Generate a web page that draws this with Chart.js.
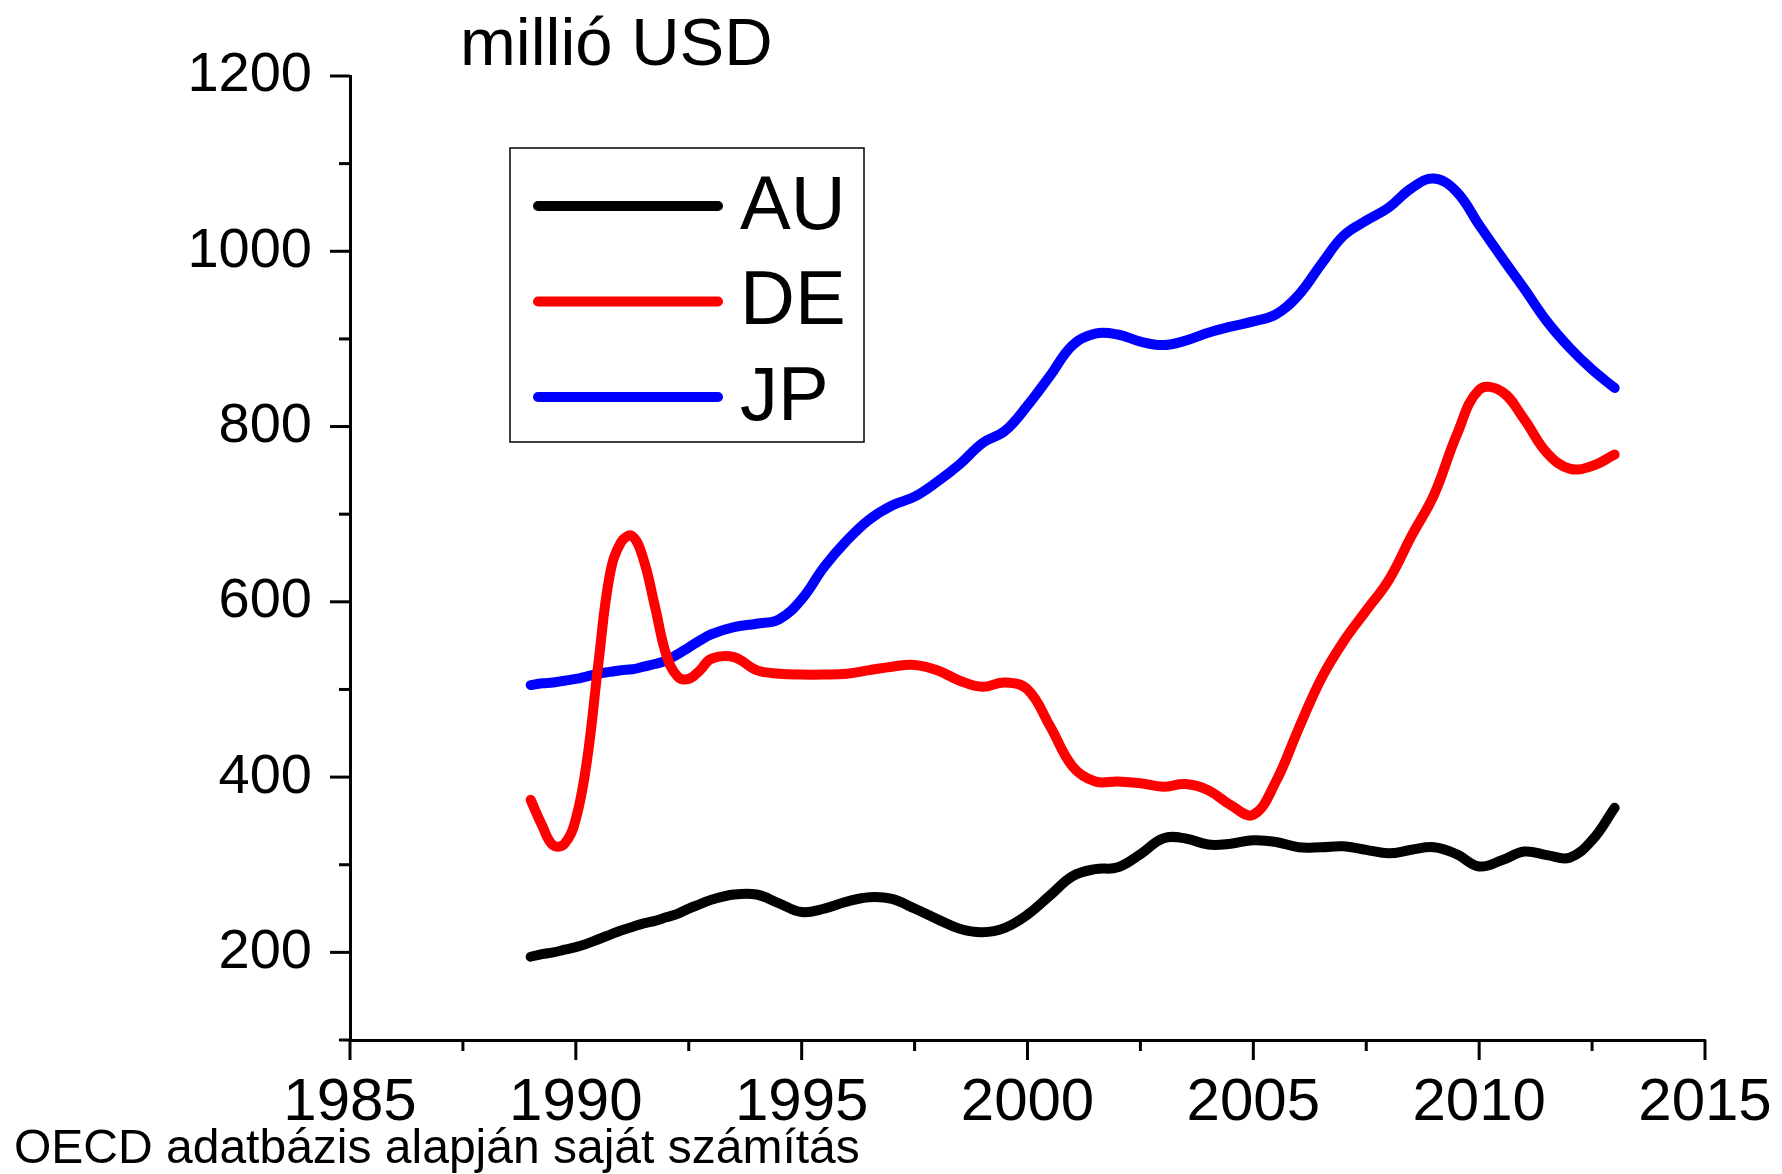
<!DOCTYPE html>
<html>
<head>
<meta charset="utf-8">
<script src="https://cdn.jsdelivr.net/npm/chart.js@4/dist/chart.umd.min.js"></script>
<style>
  html, body { margin: 0; padding: 0; background: #fff; }
  canvas { display: block; }
</style>
</head>
<body>
<canvas id="chart" width="1782" height="1174"></canvas>
<script>
// years (quarter-years where DE spikes, then half-years)
const years = [
  1989, 1989.25, 1989.5, 1989.75, 1990, 1990.25, 1990.5, 1990.75,
  1991, 1991.25, 1991.5, 1991.75, 1992, 1992.25, 1992.5, 1992.75,
  1993, 1993.5, 1994, 1994.5, 1995, 1995.5, 1996, 1996.5, 1997, 1997.5,
  1998, 1998.5, 1999, 1999.5, 2000, 2000.5, 2001, 2001.5, 2002, 2002.5,
  2003, 2003.5, 2004, 2004.5, 2005, 2005.5, 2006, 2006.5, 2007, 2007.5,
  2008, 2008.5, 2009, 2009.5, 2010, 2010.5, 2011, 2011.5, 2012, 2012.5, 2013
];

const auValues = [
  195, 198, 200, 203, 206, 210, 215, 220,
  225, 229, 233, 236, 240, 244, 250, 255,
  260, 266, 266, 256, 246, 250, 258, 263, 261, 250,
  238, 227, 223, 228, 243, 265, 287, 295, 297, 312,
  330, 330, 323, 324, 328, 326, 320, 320, 321, 317,
  313, 317, 320, 312, 298, 305, 315, 311, 308, 328, 365
];

const deValues = [
  374, 345, 322, 324, 352, 420, 530, 630,
  668, 675, 648, 595, 540, 515, 512, 522,
  535, 537, 522, 518, 517, 517, 518, 522, 526, 528,
  522, 510, 503, 508, 500, 458, 412, 395, 395, 393,
  389, 392, 385, 368, 357, 395, 455, 512, 555, 590,
  625, 675, 722, 790, 842, 840, 808, 770, 752, 755, 768
];

const jpValues = [
  505, 507, 508, 510, 512, 515, 518, 520,
  522, 523, 526, 529, 533, 540, 548, 556,
  563, 571, 575, 580, 603, 640, 670, 694, 710, 720,
  737, 757, 781, 795, 824, 858, 893, 906, 905, 897,
  893, 898, 907, 914, 920, 928, 950, 985, 1018, 1035,
  1050, 1072, 1083, 1068, 1030, 993, 957, 920, 890, 865, 844
];

const seriesNames = ["AU", "DE", "JP"];
const seriesColors = ["#000000", "#ff0000", "#0000ff"];

const yTickMajor = 200;
const xTickMajor = 5;

const FONT = "'Liberation Sans', Arial, Helvetica, sans-serif";

const toPoints = (vals) => years.map((x, i) => ({ x: x, y: vals[i] }));

// outward major/minor tick marks, legend box, title and source note
const decorations = {
  id: "decorations",
  afterDraw(chart) {
    const ctx = chart.ctx;
    const xs = chart.scales.x;
    const ys = chart.scales.y;
    const area = chart.chartArea;

    ctx.save();
    ctx.strokeStyle = "#000";
    ctx.lineWidth = 3;
    ctx.lineCap = "butt";

    ys.ticks.forEach((t) => {
      const py = ys.getPixelForValue(t.value);
      const len = t.value % yTickMajor === 0 ? 20 : 11;
      ctx.beginPath();
      ctx.moveTo(area.left, py);
      ctx.lineTo(area.left - len, py);
      ctx.stroke();
    });

    xs.ticks.forEach((t) => {
      const px = xs.getPixelForValue(t.value);
      const len = t.value % xTickMajor === 0 ? 20 : 11;
      ctx.beginPath();
      ctx.moveTo(px, area.bottom);
      ctx.lineTo(px, area.bottom + len);
      ctx.stroke();
    });

    // legend
    ctx.lineWidth = 1.5;
    ctx.strokeRect(510, 148, 354, 294);
    ctx.font = "76px " + FONT;
    ctx.textBaseline = "middle";
    ctx.textAlign = "left";
    chart.data.datasets.forEach((ds, i) => {
      const ly = 206 + i * 95.5;
      ctx.strokeStyle = ds.borderColor;
      ctx.lineWidth = 10;
      ctx.lineCap = "round";
      ctx.beginPath();
      ctx.moveTo(538, ly);
      ctx.lineTo(718, ly);
      ctx.stroke();
      ctx.fillStyle = "#000";
      ctx.fillText(ds.label, 740, ly + 2);
    });

    // unit label and source
    ctx.textBaseline = "alphabetic";
    ctx.fillStyle = "#000";
    ctx.font = "67px " + FONT;
    ctx.fillText("millió USD", 460, 65);
    ctx.font = "48px " + FONT;
    ctx.fillText("OECD adatbázis alapján saját számítás", 14, 1163);
    ctx.restore();
  }
};

const ctx = document.getElementById("chart").getContext("2d");
new Chart(ctx, {
  type: "line",
  data: {
    datasets: [auValues, deValues, jpValues].map((vals, i) => ({
      label: seriesNames[i],
      data: toPoints(vals),
      borderColor: seriesColors[i],
      backgroundColor: seriesColors[i],
      borderWidth: 10,
      borderCapStyle: "round",
      borderJoinStyle: "round",
      pointRadius: 0,
      tension: 0.4,
      fill: false
    }))
  },
  options: {
    responsive: false,
    animation: false,
    layout: {
      padding: { left: 0, top: 76, right: 77, bottom: 0 }
    },
    plugins: {
      legend: { display: false },
      title: { display: false },
      tooltip: { enabled: false }
    },
    scales: {
      x: {
        type: "linear",
        min: 1985,
        max: 2015,
        afterFit: (scale) => {
          scale.height = 134;
          scale.paddingLeft = 0;
          scale.paddingRight = 0;
        },
        grid: { display: false, drawTicks: false, tickLength: 0 },
        border: { display: true, color: "#000", width: 3 },
        ticks: {
          stepSize: 2.5,
          autoSkip: false,
          maxRotation: 0,
          padding: 27,
          color: "#000",
          font: { family: FONT, size: 60 },
          callback: (v) => (v % xTickMajor === 0 ? String(v) : "")
        }
      },
      y: {
        min: 100,
        max: 1200,
        afterFit: (scale) => {
          scale.width = 350;
          scale.paddingTop = 0;
          scale.paddingBottom = 0;
        },
        grid: { display: false, drawTicks: false, tickLength: 0 },
        border: { display: true, color: "#000", width: 3 },
        ticks: {
          stepSize: 100,
          autoSkip: false,
          padding: 38,
          color: "#000",
          font: { family: FONT, size: 56 },
          callback: (v) => (v % yTickMajor === 0 && v >= 200 ? String(v) : "")
        }
      }
    }
  },
  plugins: [decorations]
});
</script>
</body>
</html>
